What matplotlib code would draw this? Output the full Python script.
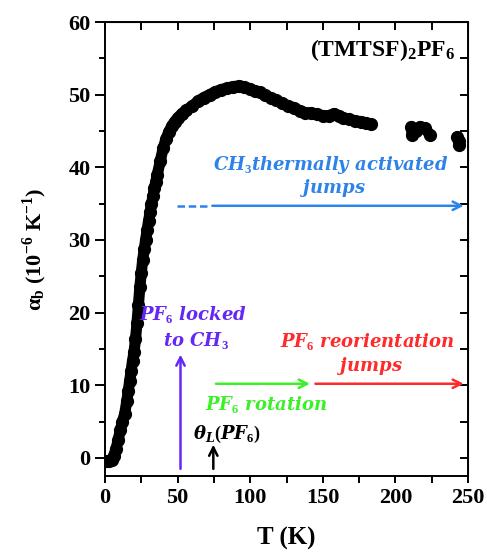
import matplotlib
matplotlib.use("Agg")
import matplotlib.pyplot as plt
from matplotlib.ticker import MultipleLocator

plt.rcParams['mathtext.fontset'] = 'custom'
plt.rcParams['mathtext.rm'] = 'Liberation Serif:bold'
plt.rcParams['mathtext.it'] = 'DejaVu Serif:italic:bold'
plt.rcParams['mathtext.bf'] = 'Liberation Serif:bold'

# Thermal expansion coefficient along b, main continuous run
T_main = [1.5, 3, 4.5, 6, 7.5, 9, 10.5, 12, 13.5, 15, 16, 17, 18, 19, 20, 21, 22,
          23, 24, 25, 26, 27, 28, 29, 30, 31, 32, 33, 34, 35, 36, 38, 40, 42, 44,
          46, 48, 50, 53, 56, 60, 64, 68, 72, 76, 80, 84, 88, 92, 96, 100, 103,
          107, 110, 114, 118, 122, 126, 130, 134, 138, 142, 146, 150, 154, 158,
          161, 164, 168, 172, 176, 180, 183]
a_main = [-0.4, -0.5, -0.3, 0.3, 1.2, 2.4, 3.8, 5.0, 6.0, 7.8, 9.2, 10.6, 12.0,
          13.4, 14.6, 16.3, 18.5, 21.0, 23.5, 25.5, 27.3, 28.7, 30.0, 31.4, 32.6,
          33.8, 34.9, 36.0, 37.1, 38.0, 39.0, 40.8, 42.6, 43.9, 44.9, 45.7, 46.3,
          46.8, 47.4, 47.9, 48.4, 49.1, 49.6, 50.0, 50.4, 50.7, 50.9, 51.1, 51.2,
          51.1, 50.8, 50.5, 50.3, 49.9, 49.6, 49.2, 48.8, 48.5, 48.2, 47.8, 47.5,
          47.5, 47.3, 47.1, 47.1, 47.4, 47.1, 46.8, 46.6, 46.4, 46.3, 46.1, 45.9]

# Isolated high-temperature points
T_hi1 = [211, 211.5, 214, 217, 220.5, 223.5]
a_hi1 = [45.6, 44.5, 45.0, 45.6, 45.4, 44.5]
T_hi2 = [242.7, 243.5, 244]
a_hi2 = [44.2, 43.6, 43.1]

serif = 'Liberation Serif'
blue = '#2e83e8'
purple = '#6428f5'
green = '#3cf028'
red = '#ff2a2a'

fig = plt.figure(figsize=(4.87, 5.57), dpi=100)
ax = fig.add_axes([0.2156, 0.1454, 0.7454, 0.8151])

for T, a in [(T_main, a_main), (T_hi1, a_hi1), (T_hi2, a_hi2)]:
    ax.plot(T, a, '-o', color='black', lw=8, ms=8.5,
            solid_capstyle='round', solid_joinstyle='round')

ax.set_xlim(0, 250)
ax.set_ylim(-2.5, 60)
ax.xaxis.set_major_locator(MultipleLocator(50))
ax.xaxis.set_minor_locator(MultipleLocator(25))
ax.yaxis.set_major_locator(MultipleLocator(10))
ax.yaxis.set_minor_locator(MultipleLocator(5))
ax.tick_params(axis='both', which='both', width=1.4)
ax.tick_params(axis='x', which='both', direction='out', length=5)
ax.tick_params(axis='y', which='major', direction='out', length=7)
ax.tick_params(axis='y', which='minor', direction='out', length=4)
for s in ax.spines.values():
    s.set_linewidth(1.4)
for lbl in ax.get_xticklabels() + ax.get_yticklabels():
    lbl.set_fontfamily(serif)
    lbl.set_fontweight('bold')
    lbl.set_fontsize(16)

# inward ticks on top and right
sec_x = ax.secondary_xaxis('top')
sec_x.xaxis.set_major_locator(MultipleLocator(25))
sec_x.tick_params(direction='in', length=6, width=1.4, labeltop=False)
sec_y = ax.secondary_yaxis('right')
sec_y.yaxis.set_major_locator(MultipleLocator(5))
sec_y.tick_params(direction='in', length=6, width=1.4, labelright=False)

ax.set_xlabel('T (K)', fontfamily=serif, fontweight='bold', fontsize=18, labelpad=14)
ax.set_ylabel(r'$\mathrm{\alpha_b}$ (10$^{-6}$ K$^{-1}$)', fontfamily=serif,
              fontweight='bold', fontsize=16, labelpad=14)

ax.text(241, 56.1, r'$\mathrm{(TMTSF)_2PF_6}$', ha='right', va='center', fontsize=17)

fs = 13
head = '->,head_length=0.6,head_width=0.3'
# CH3 jumps
ax.text(155.6, 40.3, r'$\mathit{CH_3thermally\ activated}$', color=blue,
        ha='center', va='center', fontsize=fs)
ax.text(157, 37.1, r'$\mathit{jumps}$', color=blue, ha='center', va='center', fontsize=fs)
ax.plot([49.5, 72], [34.7, 34.7], color=blue, lw=1.8, ls=(0, (3, 1.5)))
ax.annotate('', xy=(249, 34.7), xytext=(72, 34.7),
            arrowprops=dict(arrowstyle=head, color=blue, lw=1.8))

# PF6 locked
ax.text(60.8, 19.7, r'$\mathit{PF_6\ locked}$', color=purple, ha='center', va='center', fontsize=fs)
ax.text(62.6, 16.2, r'$\mathit{to\ CH_3}$', color=purple, ha='center', va='center', fontsize=fs)
ax.annotate('', xy=(52, 14.6), xytext=(52, -1.9),
            arrowprops=dict(arrowstyle=head, color=purple, lw=1.8))

# PF6 rotation
ax.annotate('', xy=(143, 10.2), xytext=(74.5, 10.2),
            arrowprops=dict(arrowstyle=head, color=green, lw=1.8))
ax.text(111.2, 7.4, r'$\mathit{PF_6\ rotation}$', color=green, ha='center', va='center', fontsize=fs)

# theta_L
ax.text(83.7, 3.2, r'$\mathit{\theta_L(PF_6)}$', color='black', ha='center', va='center', fontsize=fs)
ax.annotate('', xy=(74.6, 2.2), xytext=(74.6, -1.9),
            arrowprops=dict(arrowstyle=head, color='black', lw=1.8))

# PF6 reorientation jumps
ax.annotate('', xy=(249, 10.2), xytext=(143, 10.2),
            arrowprops=dict(arrowstyle=head, color=red, lw=1.8))
ax.text(181, 16.0, r'$\mathit{PF_6\ reorientation}$', color=red, ha='center', va='center', fontsize=fs)
ax.text(182.5, 12.6, r'$\mathit{jumps}$', color=red, ha='center', va='center', fontsize=fs)

fig.savefig('out.png', dpi=100)
